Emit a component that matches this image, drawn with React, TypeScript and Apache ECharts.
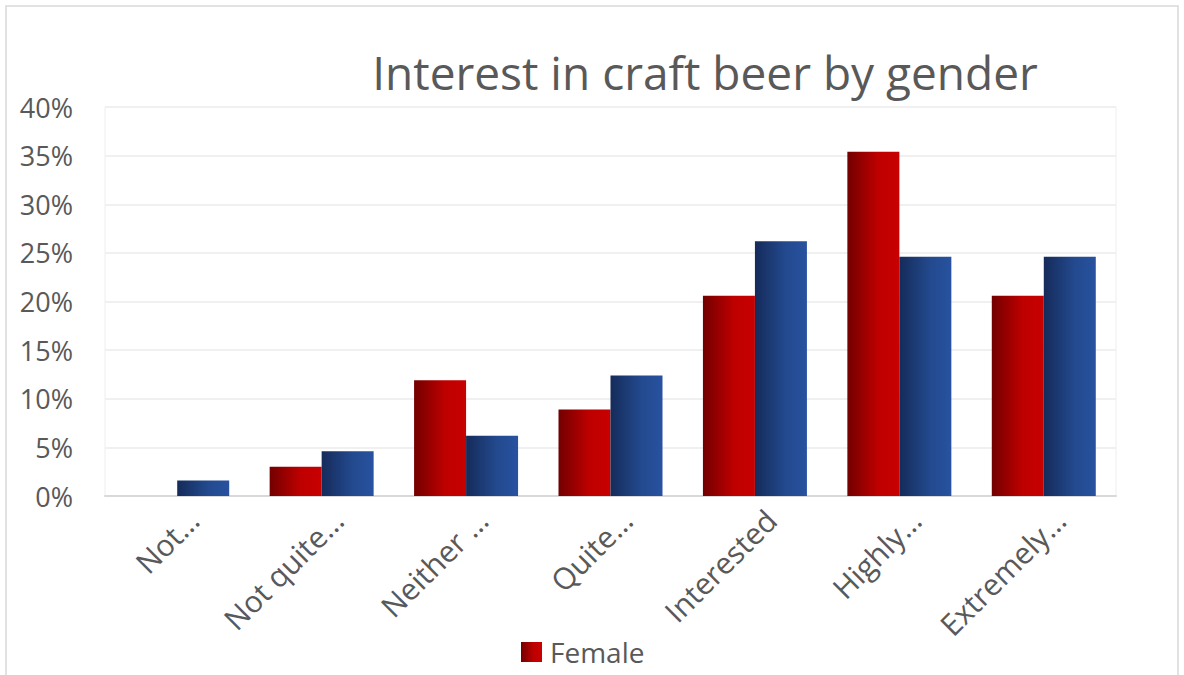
import React, { useEffect, useRef } from "react";
import * as echarts from "echarts";

const categories = ["Not…", "Not quite…", "Neither …", "Quite…", "Interested", "Highly…", "Extremely…"];
const femaleValues = [0, 3.0, 11.9, 8.9, 20.6, 35.4, 20.6];
const maleValues = [1.6, 4.6, 6.2, 12.4, 26.2, 24.6, 24.6];
const yTicks = { min: 0, max: 40, interval: 5 };

const FONT = "'Open Sans', 'Noto Sans', sans-serif";

export default function App() {
  const ref = useRef<HTMLDivElement>(null);
  useEffect(() => {
    if (!ref.current) return;
    const chart = echarts.init(ref.current, undefined, { renderer: "svg" });
    const redGrad = new echarts.graphic.LinearGradient(0, 0, 1, 0, [
      { offset: 0, color: "#730000" },
      { offset: 0.6, color: "#bf0000" },
      { offset: 1, color: "#c80000" },
    ]);
    const blueGrad = new echarts.graphic.LinearGradient(0, 0, 1, 0, [
      { offset: 0, color: "#152b5a" },
      { offset: 0.6, color: "#234a8f" },
      { offset: 1, color: "#2852a0" },
    ]);
    chart.setOption({
      animation: false,
      backgroundColor: "#ffffff",
      title: {
        text: "Interest in craft beer by gender",
        left: 700,
        top: 44,
        textAlign: "center",
        textStyle: { fontFamily: FONT, fontSize: 46, fontWeight: "normal", color: "#595959" },
      },
      legend: {
        data: ["Female"],
        left: 521,
        top: 637,
        padding: 0,
        itemWidth: 21,
        itemHeight: 20,
        itemGap: 6,
        icon: "rect",
        textStyle: { fontFamily: FONT, fontSize: 28, lineHeight: 30, color: "#595959", padding: [0, 0, 0, 3] },
      },
      grid: { left: 105, right: 68, top: 107, bottom: 179, show: true, borderColor: "#eeeeee", borderWidth: 1 },
      xAxis: {
        type: "category",
        data: categories,
        axisLine: { lineStyle: { color: "#d9d9d9", width: 2 } },
        axisTick: { show: false },
        axisLabel: {
          rotate: 45,
          fontFamily: FONT,
          fontSize: 30,
          color: "#595959",
          margin: 14,
          interval: 0,
          verticalAlign: "top",
          padding: [0, -8, 0, 0],
        },
      },
      yAxis: {
        type: "value",
        min: yTicks.min,
        max: yTicks.max,
        interval: yTicks.interval,
        axisLine: { show: false },
        axisTick: { show: false },
        splitLine: { lineStyle: { color: "#f0f0f0", width: 2 } },
        axisLabel: {
          formatter: (v: number) => v + "%",
          fontFamily: FONT,
          fontSize: 27,
          color: "#595959",
          margin: 32,
        },
      },
      series: [
        {
          name: "Female",
          type: "bar",
          data: femaleValues,
          barGap: "0%",
          barCategoryGap: "28%",
          itemStyle: { color: redGrad },
        },
        {
          name: "Male",
          type: "bar",
          data: maleValues,
          barGap: "0%",
          barCategoryGap: "28%",
          itemStyle: { color: blueGrad },
        },
      ],
      graphic: [
        {
          type: "rect",
          shape: { x: 6, y: 6, width: 1172, height: 680 },
          style: { fill: "none", stroke: "#d9d9d9", lineWidth: 1.5 },
          silent: true,
        },
      ],
    });
    return () => chart.dispose();
  }, []);
  return (
    <div
      ref={ref}
      style={{ position: "fixed", left: 0, top: 0, width: 1184, height: 675 }}
    />
  );
}
